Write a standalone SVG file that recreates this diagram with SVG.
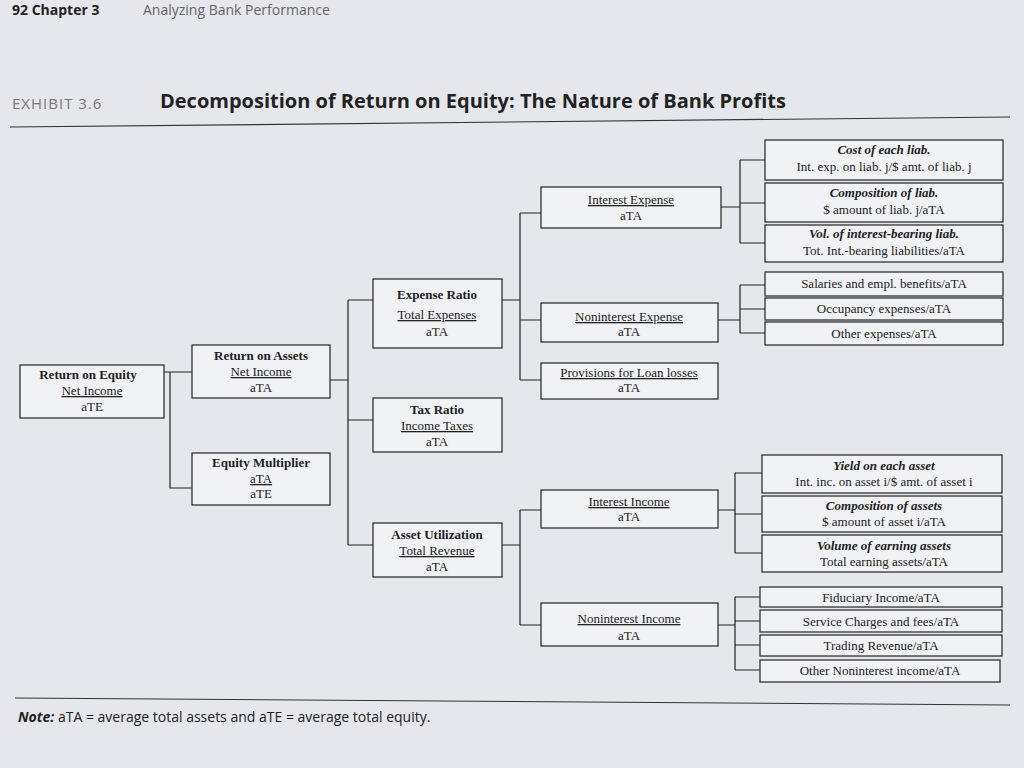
<svg xmlns="http://www.w3.org/2000/svg" width="1024" height="768" viewBox="0 0 1024 768">
<style>
.b{fill:#f1f2f5;stroke:#222;stroke-width:1.2}
text{font-family:"Liberation Serif",serif;font-size:13px;fill:#222;text-anchor:middle}
.h{font-weight:bold}
.hi{font-weight:bold;font-style:italic}
.u{text-decoration:underline}
.s{font-family:"Open Sans","Liberation Sans",sans-serif;text-anchor:start}
#conn path{fill:none;stroke:#222;stroke-width:1.2}
</style>
<rect width="1024" height="768" fill="#e6e7ec"/>
<text class="s" x="12" y="15" style="font-size:14px;font-weight:bold">92   Chapter 3</text>
<text class="s" x="143" y="15" style="font-size:14px;fill:#666">Analyzing Bank Performance</text>
<text class="s" x="12" y="109" style="font-size:15px;fill:#777;letter-spacing:1px">EXHIBIT 3.6</text>
<text class="s" x="160" y="108" style="font-size:20px;font-weight:bold">Decomposition of Return on Equity: The Nature of Bank Profits</text>
<path d="M10 127 L1010 117" stroke="#333" stroke-width="1.2"/>
<path d="M15 698 L1010 705" stroke="#333" stroke-width="1"/>
<text class="s" x="18" y="722" style="font-size:14px"><tspan font-weight="bold" font-style="italic">Note:</tspan> aTA = average total assets and aTE = average total equity.</text>
<g id="conn">
<path d="M164 372H192M170 372V488H192"/>
<path d="M330 380H348M348 300V545M348 300H373M348 420H373M348 545H373"/>
<path d="M502 300H520M520 213V380M520 213H541M520 320H541M520 380H541"/>
<path d="M502 545H520M520 510V625M520 510H541M520 625H541"/>
<path d="M721 207H740M740 160V243M740 160H765M740 203H765M740 243H765"/>
<path d="M718 320H740M740 285V333M740 285H765M740 309H765M740 333H765"/>
<path d="M718 510H735M735 473V553M735 473H762M735 514H762M735 553H762"/>
<path d="M718 625H735M735 597V670M735 597H760M735 621H760M735 645H760M735 670H760"/>
</g>
<g id="roe"><rect class="b" x="20" y="365" width="144" height="53"/><text class="h" x="88" y="379">Return on Equity</text><text class="u" x="92" y="395">Net Income</text><text x="92" y="411">aTE</text></g>
<g id="roa"><rect class="b" x="192" y="345" width="138" height="53"/><text class="h" x="261" y="360">Return on Assets</text><text class="u" x="261" y="376">Net Income</text><text x="261" y="392">aTA</text></g>
<g id="em"><rect class="b" x="192" y="453" width="138" height="52"/><text class="h" x="261" y="467">Equity Multiplier</text><text class="u" x="261" y="483">aTA</text><text x="261" y="498">aTE</text></g>
<g id="er"><rect class="b" x="373" y="279" width="129" height="69"/><text class="h" x="437" y="299">Expense Ratio</text><text class="u" x="437" y="319">Total Expenses</text><text x="437" y="336">aTA</text></g>
<g id="tr"><rect class="b" x="373" y="398" width="129" height="54"/><text class="h" x="437" y="414">Tax Ratio</text><text class="u" x="437" y="430">Income Taxes</text><text x="437" y="446">aTA</text></g>
<g id="au"><rect class="b" x="373" y="523" width="129" height="54"/><text class="h" x="437" y="539">Asset Utilization</text><text class="u" x="437" y="555">Total Revenue</text><text x="437" y="571">aTA</text></g>
<g id="ie"><rect class="b" x="541" y="187" width="180" height="41"/><text class="u" x="631" y="204">Interest Expense</text><text x="631" y="220">aTA</text></g>
<g id="ne"><rect class="b" x="541" y="303" width="177" height="39"/><text class="u" x="629" y="321">Noninterest Expense</text><text x="629" y="336">aTA</text></g>
<g id="pl"><rect class="b" x="541" y="363" width="177" height="36"/><text class="u" x="629" y="377">Provisions for Loan losses</text><text x="629" y="392">aTA</text></g>
<g id="ii"><rect class="b" x="541" y="490" width="177" height="38"/><text class="u" x="629" y="506">Interest Income</text><text x="629" y="521">aTA</text></g>
<g id="ni"><rect class="b" x="541" y="603" width="177" height="43"/><text class="u" x="629" y="623">Noninterest Income</text><text x="629" y="640">aTA</text></g>
<g id="r1"><rect class="b" x="765" y="140" width="238" height="40"/><text class="hi" x="884" y="154">Cost of each liab.</text><text x="884" y="171">Int. exp. on liab. j/$ amt. of liab. j</text></g>
<g id="r2"><rect class="b" x="765" y="183" width="238" height="39"/><text class="hi" x="884" y="197">Composition of liab.</text><text x="884" y="214">$ amount of liab. j/aTA</text></g>
<g id="r3"><rect class="b" x="765" y="225" width="238" height="37"/><text class="hi" x="884" y="238">Vol. of interest-bearing liab.</text><text x="884" y="255">Tot. Int.-bearing liabilities/aTA</text></g>
<g id="r4"><rect class="b" x="765" y="272" width="238" height="24"/><text x="884" y="288">Salaries and empl. benefits/aTA</text></g>
<g id="r5"><rect class="b" x="765" y="298" width="238" height="22"/><text x="884" y="313">Occupancy expenses/aTA</text></g>
<g id="r6"><rect class="b" x="765" y="322" width="238" height="23"/><text x="884" y="338">Other expenses/aTA</text></g>
<g id="r7"><rect class="b" x="762" y="455" width="240" height="38"/><text class="hi" x="884" y="470">Yield on each asset</text><text x="884" y="486">Int. inc. on asset i/$ amt. of asset i</text></g>
<g id="r8"><rect class="b" x="762" y="496" width="240" height="36"/><text class="hi" x="884" y="510">Composition of assets</text><text x="884" y="526">$ amount of asset i/aTA</text></g>
<g id="r9"><rect class="b" x="762" y="535" width="240" height="37"/><text class="hi" x="884" y="550">Volume of earning assets</text><text x="884" y="566">Total earning assets/aTA</text></g>
<g id="r10"><rect class="b" x="760" y="587" width="242" height="20"/><text x="881" y="602">Fiduciary Income/aTA</text></g>
<g id="r11"><rect class="b" x="760" y="610" width="242" height="22"/><text x="881" y="626">Service Charges and fees/aTA</text></g>
<g id="r12"><rect class="b" x="760" y="635" width="242" height="21"/><text x="881" y="650">Trading Revenue/aTA</text></g>
<g id="r13"><rect class="b" x="760" y="660" width="240" height="22"/><text x="880" y="675">Other Noninterest income/aTA</text></g>
</svg>
